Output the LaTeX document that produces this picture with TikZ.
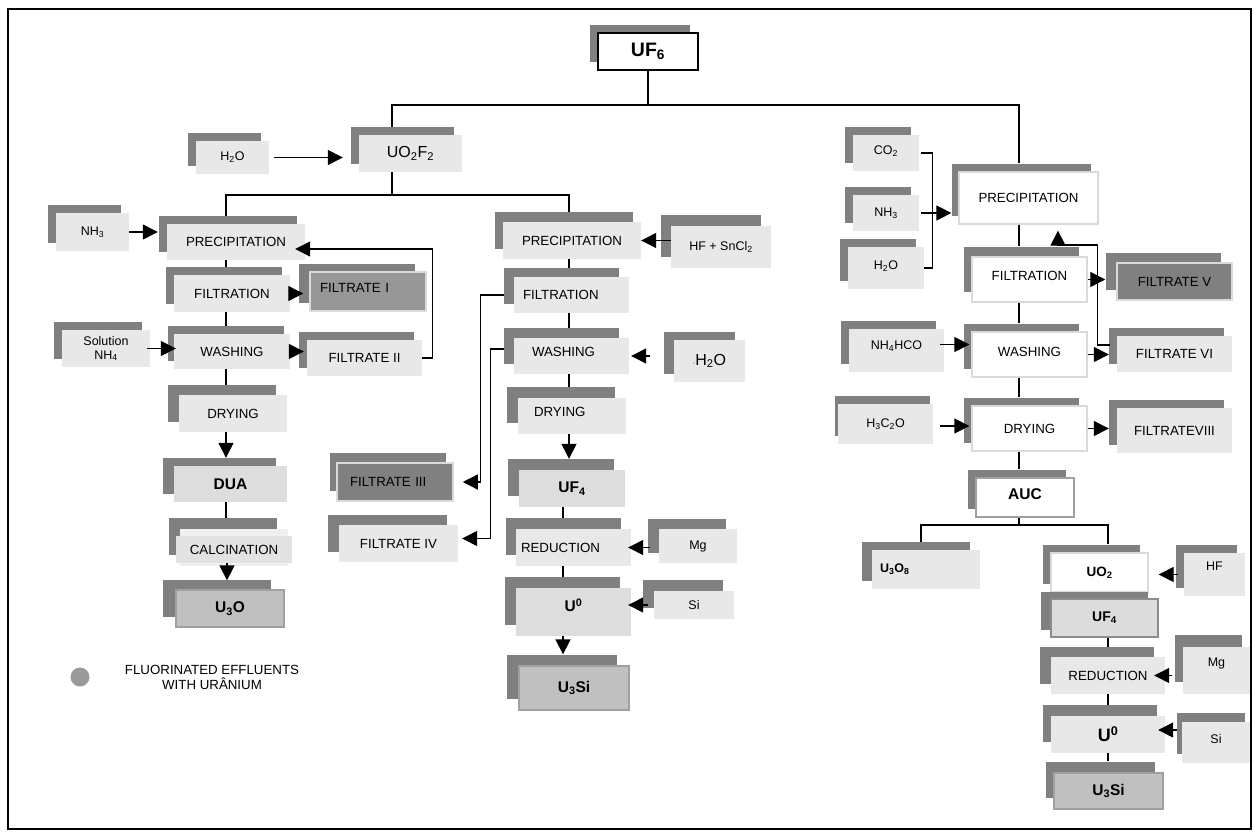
\documentclass[tikz,border=0pt]{standalone}
\usepackage{fontspec}
\setmainfont{Liberation Sans}
\usetikzlibrary{arrows.meta, shadows}

\definecolor{shadowgray}{HTML}{808080}
\definecolor{boxfill}{HTML}{E8E8E8}
\definecolor{midfill}{HTML}{DDDDDD}
\definecolor{prodfill}{HTML}{C0C0C0}
\definecolor{prodline}{HTML}{A0A0A0}
\definecolor{darkfill}{HTML}{808080}
\definecolor{filfill}{HTML}{979797}
\definecolor{paleline}{HTML}{DADADA}
\definecolor{palefill}{HTML}{F0F0F0}
\definecolor{calcfill}{HTML}{E2E2E2}
\definecolor{uffill}{HTML}{DCDCDC}
\definecolor{ufline}{HTML}{8C8C8C}
\definecolor{dotgray}{HTML}{9A9A9A}

\tikzstyle{box} = [rectangle, text centered, fill=boxfill, inner sep=2pt, font=\fontsize{13.3}{15}\selectfont]
\tikzstyle{inbox} = [box, font=\fontsize{12.5}{14}\selectfont]
\tikzstyle{midbox} = [box, fill=midfill, font=\fontsize{15.5}{18}\selectfont\bfseries]
\tikzstyle{prodbox} = [box, fill=prodfill, draw=prodline, line width=1.3pt, font=\fontsize{15.5}{18}\selectfont\bfseries]
\tikzstyle{whitebox} = [box, fill=white, draw=paleline, line width=1.3pt]
\tikzstyle{darkbox} = [box, fill=darkfill, draw=paleline, line width=1.5pt]
\tikzstyle{link} = [line width=1.3pt]
\tikzstyle{arrow} = [line width=1.3pt, -{Triangle[length=15pt, width=15pt]}]
\tikzset{
  wh/.style 2 args={minimum width=#1pt, minimum height=#2pt},
  sh/.style 2 args={drop shadow={shadow xshift=-#1pt, shadow yshift=#2pt, fill=shadowgray, opacity=1}},
  lt/.style={text width=#1pt, align=left}
}

\begin{document}
\begin{tikzpicture}[x=1pt, y=-1pt]
\useasboundingbox (0,0) rectangle (1255,832);

\node (uf6) [box, fill=white, draw=black, line width=1.5pt, wh={100}{37}, sh={8}{8}, font=\fontsize{19.5}{22}\selectfont\bfseries] at (648,51.5) {UF\textsubscript{6}};
\node (h2oa) [inbox, wh={73}{33}, sh={8}{8}] at (232.5,157.5) {H\textsubscript{2}O};
\node (uo2f2) [box, wh={103}{37}, sh={8}{8}, font=\fontsize{16}{18}\selectfont] at (410.5,153.5) {UO\textsubscript{2}F\textsubscript{2}};

\node (nh3a) [inbox, wh={73}{38}, sh={8}{8}] at (92.5,232) {NH\textsubscript{3}};
\node (prec1) [box, wh={138}{36}, sh={8}{8}] at (236,242) {PRECIPITATION};
\node (filt1) [box, wh={116}{37}, sh={8}{8}] at (232,293.5) {FILTRATION};
\node (fil1) [box, fill=filfill, draw=paleline, line width=1.5pt, wh={116}{39}, sh={11}{8}, lt={96}, text depth=7pt] at (368,291.5) {FILTRATE I};
\node (sol) [inbox, wh={88}{37}, sh={8}{8}, align=center] at (106,348.5) {Solution\\NH\textsubscript{4}};
\node (wash1) [box, wh={116}{35}, sh={6}{8}] at (232,351.5) {WASHING};
\node (fil2) [box, wh={115}{36}, sh={8}{8}] at (364.5,358) {FILTRATE II};
\node (dry1) [box, wh={108}{37}, sh={11}{10}] at (233,413.5) {DRYING};
\node (dua) [midbox, wh={113}{36}, sh={11}{8}] at (230.5,484) {DUA};
\fill [shadowgray] (169,518) rectangle (277,555);
\fill [palefill] (180,529) rectangle (288,566);
\node (calc) [box, fill=calcfill, wh={116}{27}] at (234,549.5) {CALCINATION};
\node (u3o) [prodbox, wh={108}{37}, sh={13}{10}] at (230,608.5) {U\textsubscript{3}O};
\node (effdot) [circle, fill=dotgray, minimum size=19pt, inner sep=0pt] at (80,677) {};
\node (efftext) [align=center, font=\fontsize{13.3}{15}\selectfont] at (212,677) {FLUORINATED EFFLUENTS\\WITH URÂNIUM};

\node (prec2) [box, wh={138}{37}, sh={8}{10}] at (572,240.5) {PRECIPITATION};
\node (hfsn) [inbox, wh={100}{42}, sh={10}{11}] at (721,247) {HF + SnCl\textsubscript{2}};
\node (filt2) [box, wh={115}{36}, sh={10}{9}, lt={97}] at (571.5,295) {FILTRATION};
\node (wash2) [box, wh={115}{36}, sh={10}{10}, lt={79}, text depth=8pt] at (571.5,356) {WASHING};
\node (h2ob) [box, wh={71}{42}, sh={10}{8}, font=\fontsize{16}{18}\selectfont] at (709.5,361) {{\fontsize{7}{7}\selectfont ·}H\textsubscript{2}O};
\node (dry2) [box, wh={108}{36}, sh={11}{11}, lt={76}, text depth=8pt] at (572,416) {DRYING};
\node (uf4a) [midbox, wh={106}{37}, sh={11}{11}] at (572,488.5) {UF\textsubscript{4}};
\node (red2) [box, wh={115}{37}, sh={10}{11}, lt={105}] at (573.5,547.5) {REDUCTION};
\node (mga) [inbox, wh={78}{34}, sh={11}{10}] at (698,546) {Mg};
\node (u0a) [midbox, wh={115}{48}, sh={11}{11}, text depth=14pt] at (573.5,612) {U\textsuperscript{0}};
\node (sia) [inbox, wh={80}{28}, sh={11}{11}] at (694,605) {Si};
\node (u3sia) [prodbox, wh={110}{44}, sh={12}{11}] at (574,688) {U\textsubscript{3}Si};
\node (fil3) [darkbox, wh={116}{38}, sh={7}{10}, lt={90}] at (395,482) {FILTRATE III};
\node (fil4) [box, wh={119}{37}, sh={11}{10}] at (398.5,543.5) {FILTRATE IV};

\node (co2) [inbox, wh={66}{36}, sh={8}{8}, text depth=5pt] at (886,153) {CO\textsubscript{2}};
\node (nh3b) [inbox, wh={66}{36}, sh={8}{8}] at (886,213) {NH\textsubscript{3}};
\node (h2oc) [inbox, wh={76}{42}, sh={8}{8}, text depth=6pt] at (886,268) {H\textsubscript{2}O};
\node (prec3) [whitebox, wh={139}{52}, sh={7}{8}] at (1028.5,198) {PRECIPITATION};
\node (filt3) [whitebox, wh={115}{45}, sh={8}{10}, text depth=8pt] at (1029.5,279.5) {FILTRATION};
\node (fil5) [darkbox, wh={115}{37}, sh={11}{10}] at (1174.5,281.5) {FILTRATE V};
\node (nh4hco) [inbox, wh={95}{43}, sh={8}{8}, text depth=10pt] at (896.5,350.5) {NH\textsubscript{4}HCO};
\node (wash3) [whitebox, wh={115}{45}, sh={8}{8}, text depth=6pt] at (1029.5,354.5) {WASHING};
\node (fil6) [box, wh={115}{36}, sh={8}{8}] at (1174.5,354) {FILTRATE VI};
\node (h3c2o) [inbox, wh={95}{40}, sh={3}{8}] at (885.5,424) {H\textsubscript{3}C\textsubscript{2}O};
\node (dry3) [whitebox, wh={115}{45}, sh={8}{8}] at (1029.5,428.5) {DRYING};
\node (fil8) [box, wh={115}{45}, sh={8}{8}] at (1174.5,430.5) {FILTRATEVIII};
\node (auc) [whitebox, draw=prodline, wh={98}{39}, sh={8}{8}, font=\fontsize{15.5}{18}\selectfont\bfseries, text depth=6pt] at (1025,497.5) {AUC};
\node (u3o8) [box, wh={108}{39}, sh={10}{8}, lt={92}, font=\fontsize{12.5}{14}\selectfont\bfseries] at (926,569.5) {U\textsubscript{3}O\textsubscript{8}};
\node (uo2) [whitebox, wh={97}{39}, sh={8}{8}, font=\fontsize{13.5}{16}\selectfont\bfseries] at (1099.5,572.5) {UO\textsubscript{2}};
\node (hf) [inbox, wh={61}{43}, sh={8}{8}, text depth=16pt] at (1214.5,574.5) {HF};
\node (uf4b) [box, fill=uffill, draw=ufline, line width=1.5pt, wh={107}{38}, sh={10}{7}, font=\fontsize{14}{16}\selectfont\bfseries] at (1104.5,618) {UF\textsubscript{4}};
\node (red3) [box, wh={114}{37}, sh={11}{10}] at (1108,675.5) {REDUCTION};
\node (mgb) [inbox, wh={67}{47}, sh={8}{12}, text depth=17pt] at (1216.5,670.5) {Mg};
\node (u0b) [box, wh={114}{37}, sh={8}{11}, font=\fontsize{18}{20}\selectfont\bfseries] at (1108,734.5) {U\textsuperscript{0}};
\node (sib) [inbox, wh={68}{41}, sh={5}{9}, text depth=8pt] at (1216,742.5) {Si};
\node (u3sib) [prodbox, wh={109}{36}, sh={8}{11}] at (1108.5,791) {U\textsubscript{3}Si};

\coordinate (split0) at (648,105);
\coordinate (split1) at (392,195);
\coordinate (split2) at (1019,525);

\draw [link] (uf6.south) -- (split0);
\draw [link] (split0) -| ([xshift=-18.5pt, yshift=8pt]uo2f2.north);
\draw [link] (split0) -| ([xshift=-9.5pt, yshift=8pt]prec3.north);
\draw [link] ([xshift=-18.5pt]uo2f2.south) -- (split1);
\draw [link] (split1) -| ([xshift=-10pt, yshift=8pt]prec1.north);
\draw [link] (split1) -| ([xshift=-3pt, yshift=10pt]prec2.north);
\draw [arrow, shorten <=5pt, shorten >=16pt] (h2oa.east) -- (h2oa.east -| uo2f2.west);

\draw [arrow, shorten >=9pt] (nh3a.east) -- (nh3a.east -| prec1.west);
\draw [link] ([xshift=-10pt]prec1.south) -- ([xshift=-6pt, yshift=8pt]filt1.north);
\draw [arrow, shorten <=-7pt, shorten >=6pt] (filt1.east) -- (filt1.east -| fil1.west);
\draw [link] ([xshift=-6pt]filt1.south) -- ([xshift=-6pt, yshift=8pt]wash1.north);
\draw [arrow, shorten <=-3pt, shorten >=-2pt] (sol.east) -- (sol.east -| wash1.west);
\draw [arrow, shorten <=-7pt, shorten >=3pt] (wash1.east) -- (wash1.east -| fil2.west);
\draw [arrow, shorten >=-10pt] (fil2.east) -- ++(10,0) |- ([yshift=-7pt]prec1.east);
\draw [link] ([xshift=-6pt]wash1.south) -- ([xshift=-7pt, yshift=10pt]dry1.north);
\draw [arrow] ([xshift=-7pt]dry1.south) -- ([xshift=-4.5pt, yshift=8pt]dua.north);
\draw [link] ([xshift=-4.5pt]dua.south) -- ([xshift=-8pt, yshift=18pt]calc.north);
\draw [arrow, shorten >=-1pt] ([xshift=-7pt]calc.south) -- ([xshift=-3pt, yshift=10pt]u3o.north);

\draw [arrow] (prec2.east -| hfsn.west) -- (prec2.east);
\draw [link] ([xshift=-3pt]prec2.south) -- ([xshift=-2.5pt, yshift=9pt]filt2.north);
\draw [link] ([xshift=-2.5pt]filt2.south) -- ([xshift=-2.5pt, yshift=10pt]wash2.north);
\draw [arrow, shorten <=24pt, shorten >=2pt] (wash2.east -| h2ob.west) -- (wash2.east);
\draw [link] ([xshift=-2.5pt]wash2.south) -- ([xshift=-3pt, yshift=11pt]dry2.north);
\draw [arrow] ([xshift=-3pt]dry2.south) -- ([xshift=-3pt, yshift=11pt]uf4a.north);
\draw [link] ([xshift=-9pt]uf4a.south) -- ([xshift=-10.5pt, yshift=11pt]red2.north);
\draw [arrow, shorten <=9pt, shorten >=-3pt] (red2.east -| mga.west) -- (red2.east);
\draw [link] ([xshift=-10.5pt]red2.south) -- ([xshift=-10.5pt, yshift=11pt]u0a.north);
\draw [arrow, shorten <=6pt, shorten >=-3pt] (sia.west) -- (sia.west -| u0a.east);
\draw [arrow] ([xshift=-10.5pt]u0a.south) -- ([xshift=-11pt, yshift=11pt]u3sia.north);
\draw [arrow, shorten >=9pt] ([xshift=-10pt]filt2.west) -- ++(-23,0) |- (fil3.east);
\draw [arrow, shorten >=4pt] ([xshift=-10pt, yshift=7pt]wash2.west) -- ++(-13,0) |- ([yshift=5pt]fil4.east);

\draw [link, shorten <=2pt] (co2.east) -- ++(13,0) |- (h2oc.east);
\draw [arrow, shorten <=2pt, shorten >=7pt] (nh3b.east) -- (nh3b.east -| prec3.west);
\draw [link] ([xshift=-9.5pt]prec3.south) -- ([xshift=-10.5pt, yshift=10pt]filt3.north);
\draw [arrow, shorten >=11pt] (filt3.east) -- (filt3.east -| fil5.west);
\draw [arrow, shorten <=7pt, shorten >=6pt] ([yshift=9pt]fil6.west) -| ++(-19,-100) -| ([xshift=29.5pt]prec3.south);
\draw [link] ([xshift=-10.5pt]filt3.south) -- ([xshift=-10.5pt, yshift=8pt]wash3.north);
\draw [arrow, shorten <=-4pt, shorten >=2pt] ([yshift=6pt]nh4hco.east) -- ([yshift=6pt]nh4hco.east -| wash3.west);
\draw [arrow, shorten >=8pt] (wash3.east) -- (wash3.east -| fil6.west);
\draw [link] ([xshift=-10.5pt]wash3.south) -- ([xshift=-10.5pt, yshift=8pt]dry3.north);
\draw [arrow, shorten <=7pt, shorten >=2pt] ([yshift=-2pt]h3c2o.east) -- ([yshift=-2pt]h3c2o.east -| dry3.west);
\draw [arrow, shorten >=8pt] (dry3.east) -- (dry3.east -| fil8.west);
\draw [link] ([xshift=-10.5pt]dry3.south) -- ([xshift=-6pt, yshift=8pt]auc.north);
\draw [link] ([xshift=-6pt]auc.south) -- (split2);
\draw [link] (split2) -| ([xshift=-5pt, yshift=8pt]u3o8.north);
\draw [link] (split2) -| ([xshift=8.5pt, yshift=8pt]uo2.north);
\draw [arrow, shorten <=6pt, shorten >=10pt] (hf.west) -- (hf.west -| uo2.east);
\draw [link] ([xshift=3.5pt]uf4b.south) -- ([yshift=10pt]red3.north);
\draw [arrow, shorten <=11pt, shorten >=-11pt] (red3.east -| mgb.west) -- (red3.east);
\draw [link] (red3.south) -- ([yshift=11pt]u0b.north);
\draw [arrow, shorten <=5pt, shorten >=-7pt] ([yshift=4.5pt]u0b.east -| sib.west) -- ([yshift=4.5pt]u0b.east);
\draw [link] (u0b.south) -- ([xshift=-0.5pt, yshift=11pt]u3sib.north);

\draw [line width=1.5pt] (8,9) rectangle (1251,829);
\end{tikzpicture}
\end{document}
